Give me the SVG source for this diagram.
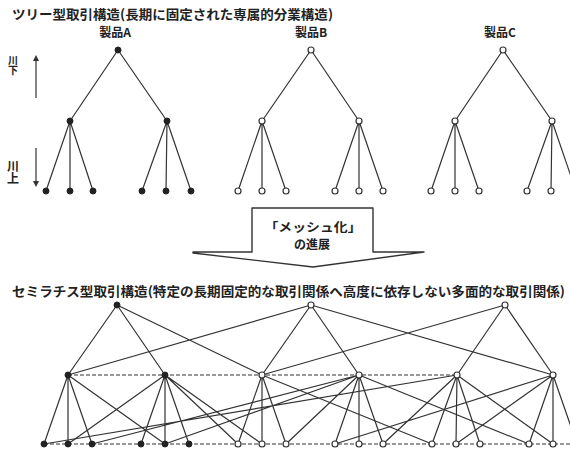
<svg xmlns="http://www.w3.org/2000/svg" width="570" height="451" viewBox="0 0 570 451">
<defs>
<style>
.e{stroke:#333;stroke-width:1.2;fill:none}
.d{stroke-dasharray:4 2}
.f{fill:#222;stroke:#222;stroke-width:1}
.o{fill:#fff;stroke:#333;stroke-width:1.2}
text{font-family:"Noto Sans CJK JP","Noto Sans",sans-serif;fill:#222;font-weight:bold}
.t{font-size:13px}
.l{font-size:12px;text-anchor:middle}
</style>
<marker id="ah" markerWidth="6" markerHeight="6" refX="3" refY="3" orient="auto" markerUnits="userSpaceOnUse"><path d="M0,0 L6,3 L0,6 z" fill="#333"/></marker>
</defs>
<rect width="570" height="451" fill="#fff"/>

<text class="t" x="12" y="19" textLength="321" lengthAdjust="spacingAndGlyphs">ツリー型取引構造(長期に固定された専属的分業構造)</text>
<text class="l" x="115" y="37">製品A</text>
<text class="l" x="311" y="37">製品B</text>
<text class="l" x="500" y="37">製品C</text>

<g id="river">
<text x="13" y="55" font-size="10" writing-mode="tb">川下</text>
<line class="e" x1="36" y1="98" x2="36" y2="58" marker-end="url(#ah)"/>
<text x="13" y="160" font-size="12" writing-mode="tb">川上</text>
<line class="e" x1="36" y1="148" x2="36" y2="184" marker-end="url(#ah)"/>
</g>

<g id="connectors">
<!-- top trees -->
<path class="e" d="M118,50 L70,121 M118,50 L167,121 M70,121 L46,191 M70,121 L70,191 M70,121 L93,191 M167,121 L142,191 M167,121 L166,191 M167,121 L191,191"/>
<path class="e" d="M311,50 L262,121 M311,50 L359,121 M262,121 L238,191 M262,121 L262,191 M262,121 L286,191 M359,121 L335,191 M359,121 L359,191 M359,121 L383,191"/>
<path class="e" d="M503,50 L455,121 M503,50 L552,121 M455,121 L431,191 M455,121 L455,191 M455,121 L479,191 M552,121 L527,191 M552,121 L551,191 M552,121 L576,191"/>
<!-- bottom network: dashed rows -->
<path class="e d" d="M68,375 L457,375 M44,444 L570,444"/>
<!-- bottom tree edges -->
<path class="e" d="M117,305 L68,375 M117,305 L165,375 M311,305 L262,375 M311,305 L359,375 M505,305 L457,375 M505,305 L553,375"/>
<path class="e" d="M68,375 L44,444 M68,375 L68,444 M68,375 L92,444 M165,375 L141,444 M165,375 L165,444 M165,375 L189,444"/>
<path class="e" d="M262,375 L238,444 M262,375 L262,444 M262,375 L286,444 M359,375 L335,444 M359,375 L359,444 M359,375 L383,444"/>
<path class="e" d="M457,375 L432,444 M457,375 L456,444 M457,375 L480,444 M553,375 L529,444 M553,375 L553,444 M553,375 L577,444"/>
<!-- cross links -->
<path class="e" d="M117,305 L262,375 M68,375 L311,305 M311,305 L553,375 M262,375 L505,305"/>
<path class="e" d="M68,375 L165,444 M165,375 L68,444 M165,375 L262,444 M165,375 L238,444"/>
<path class="e" d="M44,444 L457,375 M92,444 L359,375 M359,375 L165,444 M359,375 L286,444 M262,375 L432,444 M359,375 L529,444"/>
<path class="e" d="M553,375 L335,444 M457,375 L383,444 M457,375 L553,444 M553,375 L456,444"/>
</g>

<!-- top tree nodes -->
<g id="ta-root"><circle class="f" cx="118" cy="50" r="3"/></g>
<g id="ta-m1"><circle class="f" cx="70" cy="121" r="3"/></g>
<g id="ta-m2"><circle class="f" cx="167" cy="121" r="3"/></g>
<g id="ta-l1"><circle class="f" cx="46" cy="191" r="3"/></g>
<g id="ta-l2"><circle class="f" cx="70" cy="191" r="3"/></g>
<g id="ta-l3"><circle class="f" cx="93" cy="191" r="3"/></g>
<g id="ta-l4"><circle class="f" cx="142" cy="191" r="3"/></g>
<g id="ta-l5"><circle class="f" cx="166" cy="191" r="3"/></g>
<g id="ta-l6"><circle class="f" cx="191" cy="191" r="3"/></g>

<g id="tb-root"><circle class="o" cx="311" cy="50" r="3"/></g>
<g id="tb-m1"><circle class="o" cx="262" cy="121" r="3"/></g>
<g id="tb-m2"><circle class="o" cx="359" cy="121" r="3"/></g>
<g id="tb-l1"><circle class="o" cx="238" cy="191" r="3"/></g>
<g id="tb-l2"><circle class="o" cx="262" cy="191" r="3"/></g>
<g id="tb-l3"><circle class="o" cx="286" cy="191" r="3"/></g>
<g id="tb-l4"><circle class="o" cx="335" cy="191" r="3"/></g>
<g id="tb-l5"><circle class="o" cx="359" cy="191" r="3"/></g>
<g id="tb-l6"><circle class="o" cx="383" cy="191" r="3"/></g>

<g id="tc-root"><circle class="o" cx="503" cy="50" r="3"/></g>
<g id="tc-m1"><circle class="o" cx="455" cy="121" r="3"/></g>
<g id="tc-m2"><circle class="o" cx="552" cy="121" r="3"/></g>
<g id="tc-l1"><circle class="o" cx="431" cy="191" r="3"/></g>
<g id="tc-l2"><circle class="o" cx="455" cy="191" r="3"/></g>
<g id="tc-l3"><circle class="o" cx="479" cy="191" r="3"/></g>
<g id="tc-l4"><circle class="o" cx="527" cy="191" r="3"/></g>
<g id="tc-l5"><circle class="o" cx="551" cy="191" r="3"/></g>
<g id="tc-l6"><circle class="o" cx="576" cy="191" r="3"/></g>

<!-- transition arrow -->
<g id="mesh-arrow">
<path d="M252,208 L373,208 L373,252 L424,252 L313,267 L193,253 L193,252 L252,252 Z" fill="#fff" stroke="#333" stroke-width="1.4" stroke-linejoin="round"/>
<text class="l" x="313" y="232" font-size="12.5" textLength="97" lengthAdjust="spacingAndGlyphs">「メッシュ化」</text>
<text class="l" x="312" y="249" font-size="13">の進展</text>
</g>

<text class="t" x="12" y="296" textLength="553" lengthAdjust="spacingAndGlyphs">セミラチス型取引構造(特定の長期固定的な取引関係へ高度に依存しない多面的な取引関係)</text>

<!-- bottom network nodes -->
<g id="na-top"><circle class="f" cx="117" cy="305" r="3"/></g>
<g id="nb-top"><circle class="o" cx="311" cy="305" r="3"/></g>
<g id="nc-top"><circle class="o" cx="505" cy="305" r="3"/></g>
<g id="na-m1"><circle class="f" cx="68" cy="375" r="3"/></g>
<g id="na-m2"><circle class="f" cx="165" cy="375" r="3"/></g>
<g id="nb-m1"><circle class="o" cx="262" cy="375" r="3"/></g>
<g id="nb-m2"><circle class="o" cx="359" cy="375" r="3"/></g>
<g id="nc-m1"><circle class="o" cx="457" cy="375" r="3"/></g>
<g id="nc-m2"><circle class="o" cx="553" cy="375" r="3"/></g>
<g id="na-l1"><circle class="f" cx="44" cy="444" r="3"/></g>
<g id="na-l2"><circle class="f" cx="68" cy="444" r="3"/></g>
<g id="na-l3"><circle class="f" cx="92" cy="444" r="3"/></g>
<g id="na-l4"><circle class="f" cx="141" cy="444" r="3"/></g>
<g id="na-l5"><circle class="f" cx="165" cy="444" r="3"/></g>
<g id="na-l6"><circle class="f" cx="189" cy="444" r="3"/></g>
<g id="nb-l1"><circle class="o" cx="238" cy="444" r="3"/></g>
<g id="nb-l2"><circle class="o" cx="262" cy="444" r="3"/></g>
<g id="nb-l3"><circle class="o" cx="286" cy="444" r="3"/></g>
<g id="nb-l4"><circle class="o" cx="335" cy="444" r="3"/></g>
<g id="nb-l5"><circle class="o" cx="359" cy="444" r="3"/></g>
<g id="nb-l6"><circle class="o" cx="383" cy="444" r="3"/></g>
<g id="nc-l1"><circle class="o" cx="432" cy="444" r="3"/></g>
<g id="nc-l2"><circle class="o" cx="456" cy="444" r="3"/></g>
<g id="nc-l3"><circle class="o" cx="480" cy="444" r="3"/></g>
<g id="nc-l4"><circle class="o" cx="529" cy="444" r="3"/></g>
<g id="nc-l5"><circle class="o" cx="553" cy="444" r="3"/></g>
<g id="nc-l6"><circle class="o" cx="577" cy="444" r="3"/></g>
</svg>
